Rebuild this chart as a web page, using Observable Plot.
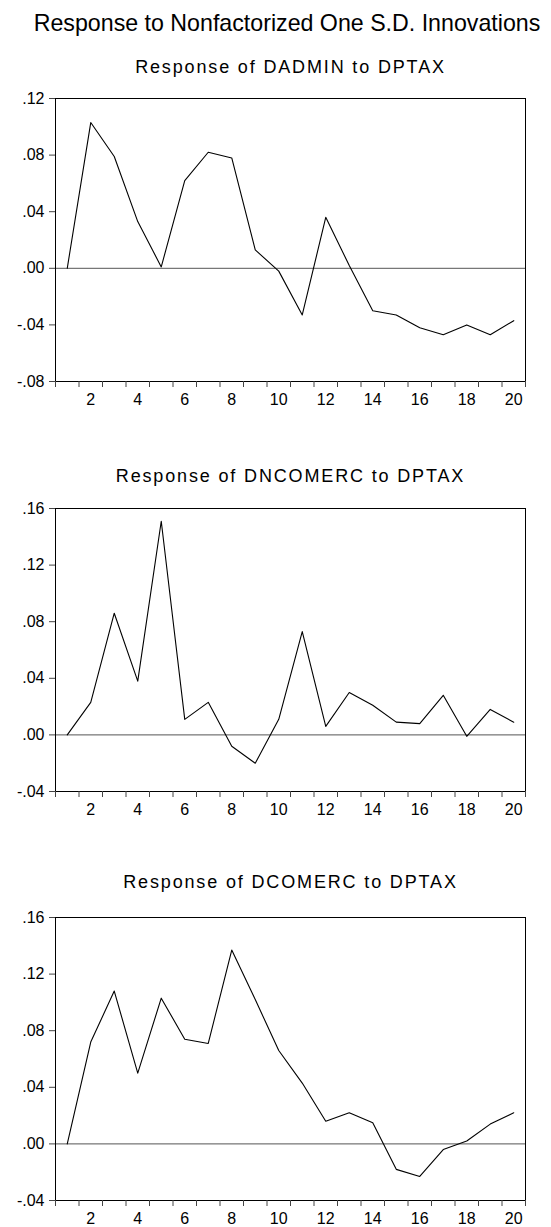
<!DOCTYPE html>
<html>
<head>
<meta charset="utf-8">
<script src="https://cdn.jsdelivr.net/npm/d3@7"></script>
<script src="https://cdn.jsdelivr.net/npm/@observablehq/plot@0.6"></script>
<style>
  html, body { margin: 0; padding: 0; background: #fff; }
  body { width: 551px; height: 1227px; position: relative; overflow: hidden;
         font-family: "Liberation Sans", Arial, sans-serif; color: #000; }
  .title { position: absolute; left: 0; width: 574px; text-align: center;
           font-size: 23.2px; line-height: 23px; white-space: nowrap; }
  .sub { position: absolute; left: 0; width: 581px; text-align: center;
         font-size: 18px; line-height: 18px; letter-spacing: 1.85px; white-space: nowrap; }
  svg.panel { position: absolute !important; left: 0; }
  svg.panel text { font-family: "Liberation Sans", Arial, sans-serif !important; font-size: 16px !important; }
</style>
</head>
<body>
<div id="root"></div>
<script>
// ---- data ----
const mainTitle = "Response to Nonfactorized One S.D. Innovations";
const panelTitles = ["Response of DADMIN to DPTAX", "Response of DNCOMERC to DPTAX", "Response of DCOMERC to DPTAX"];
const periods = [1,2,3,4,5,6,7,8,9,10,11,12,13,14,15,16,17,18,19,20];
const dadmin   = [0.000, 0.103, 0.079, 0.033, 0.001, 0.062, 0.082, 0.078, 0.013, -0.002, -0.033, 0.036, 0.002, -0.030, -0.033, -0.042, -0.047, -0.040, -0.047, -0.037];
const dncomerc = [0.000, 0.023, 0.086, 0.038, 0.151, 0.011, 0.023, -0.008, -0.020, 0.011, 0.073, 0.006, 0.030, 0.021, 0.009, 0.008, 0.028, -0.001, 0.018, 0.009];
const dcomerc  = [0.000, 0.072, 0.108, 0.050, 0.103, 0.074, 0.071, 0.137, 0.102, 0.066, 0.043, 0.016, 0.022, 0.015, -0.018, -0.023, -0.004, 0.002, 0.014, 0.022];
const yTicksA = [-0.08, -0.04, 0.00, 0.04, 0.08, 0.12];
const yTicksB = [-0.04, 0.00, 0.04, 0.08, 0.12, 0.16];
const xBounds = [0.5,1.5,2.5,3.5,4.5,5.5,6.5,7.5,8.5,9.5,10.5,11.5,12.5,13.5,14.5,15.5,16.5,17.5,18.5,19.5,20.5];
const xLabels = [2,4,6,8,10,12,14,16,18,20];

// ---- layout ----
const root = document.getElementById("root");
const fmt = v => {
  const s = Math.abs(v).toFixed(2).replace(/^0\./, ".");
  return (v < -1e-9 ? "-" : "") + s;
};

function addDiv(cls, text, top) {
  const d = document.createElement("div");
  d.className = cls;
  d.textContent = text;
  d.style.top = top + "px";
  root.appendChild(d);
}

function panel(values, yTicks, top) {
  const data = periods.map((p, i) => ({p, v: values[i]}));
  const svg = Plot.plot({
    width: 551,
    height: 325,
    marginLeft: 55,
    marginRight: 26,
    marginTop: 10,
    marginBottom: 32,
    x: {domain: [0.5, 20.5], label: null},
    y: {domain: [yTicks[0], yTicks[yTicks.length - 1]], label: null},
    style: "font-family: 'Liberation Sans', Arial, sans-serif; font-size: 16px; color: #000; background: transparent; overflow: visible;",
    marks: [
      Plot.ruleY([0], {stroke: "#555", strokeWidth: 1}),
      Plot.line(data, {x: "p", y: "v", stroke: "#000", strokeWidth: 1.1}),
      Plot.frame({stroke: "#000", strokeWidth: 1}),
      Plot.axisY(yTicks, {tickSize: 6, tickPadding: 5, tickFormat: fmt, stroke: "#444", fill: "#000", fontSize: 16}),
      Plot.axisX(xBounds, {tickSize: 6, tickFormat: () => "", stroke: "#444"}),
      Plot.axisX(xLabels, {tickSize: 0, tickPadding: 12, fill: "#000", fontSize: 16})
    ]
  });
  svg.setAttribute("class", (svg.getAttribute("class") || "") + " panel");
  svg.style.position = "absolute";
  svg.style.left = "0px";
  svg.style.top = top + "px";
  root.appendChild(svg);
}

addDiv("title", mainTitle, 11.5);
addDiv("sub", panelTitles[0], 57.5);
panel(dadmin, yTicksA, 88);
addDiv("sub", panelTitles[1], 467);
panel(dncomerc, yTicksB, 498);
addDiv("sub", panelTitles[2], 872.5);
panel(dcomerc, yTicksB, 907);
</script>
</body>
</html>
